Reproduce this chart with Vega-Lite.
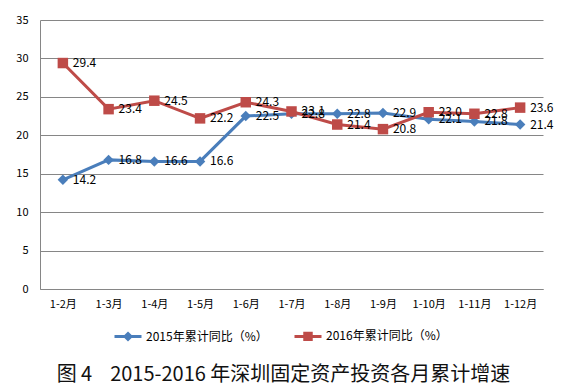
{
  "$schema": "https://vega.github.io/schema/vega-lite/v6.json",
  "width": 503,
  "height": 269,
  "autosize": {"type": "none"},
  "padding": {"left": 40, "top": 20, "right": 26, "bottom": 103},
  "background": "white",
  "config": {
    "view": {"stroke": null},
    "font": "Noto Sans CJK SC",
    "axis": {"labelFont": "Noto Sans CJK SC", "labelColor": "#000", "labelFontSize": 11}
  },
  "title": {
    "text": "图 4\u00a0\u00a0\u00a0 2015-2016 年深圳固定资产投资各月累计增速",
    "orient": "bottom",
    "anchor": "middle",
    "dx": -8,
    "offset": 19,
    "fontSize": 20,
    "fontWeight": "normal",
    "font": "Noto Sans CJK SC",
    "color": "#111"
  },
  "data": {
    "values": [
      {"month": "1-2月", "series": "2015年累计同比（%）", "value": 14.2},
      {"month": "1-3月", "series": "2015年累计同比（%）", "value": 16.8},
      {"month": "1-4月", "series": "2015年累计同比（%）", "value": 16.6},
      {"month": "1-5月", "series": "2015年累计同比（%）", "value": 16.6},
      {"month": "1-6月", "series": "2015年累计同比（%）", "value": 22.5},
      {"month": "1-7月", "series": "2015年累计同比（%）", "value": 22.8},
      {"month": "1-8月", "series": "2015年累计同比（%）", "value": 22.8},
      {"month": "1-9月", "series": "2015年累计同比（%）", "value": 22.9},
      {"month": "1-10月", "series": "2015年累计同比（%）", "value": 22.1},
      {"month": "1-11月", "series": "2015年累计同比（%）", "value": 21.8},
      {"month": "1-12月", "series": "2015年累计同比（%）", "value": 21.4},
      {"month": "1-2月", "series": "2016年累计同比（%）", "value": 29.4},
      {"month": "1-3月", "series": "2016年累计同比（%）", "value": 23.4},
      {"month": "1-4月", "series": "2016年累计同比（%）", "value": 24.5},
      {"month": "1-5月", "series": "2016年累计同比（%）", "value": 22.2},
      {"month": "1-6月", "series": "2016年累计同比（%）", "value": 24.3},
      {"month": "1-7月", "series": "2016年累计同比（%）", "value": 23.1},
      {"month": "1-8月", "series": "2016年累计同比（%）", "value": 21.4},
      {"month": "1-9月", "series": "2016年累计同比（%）", "value": 20.8},
      {"month": "1-10月", "series": "2016年累计同比（%）", "value": 23.0},
      {"month": "1-11月", "series": "2016年累计同比（%）", "value": 22.8},
      {"month": "1-12月", "series": "2016年累计同比（%）", "value": 23.6}
    ]
  },
  "encoding": {
    "x": {
      "field": "month", "type": "nominal", "sort": null,
      "scale": {"type": "point", "padding": 0.5},
      "axis": {"title": null, "labelAngle": 0, "ticks": false, "domainColor": "#868686", "labelPadding": 9, "grid": false}
    },
    "y": {
      "field": "value", "type": "quantitative",
      "scale": {"domain": [0, 35], "nice": false},
      "axis": {"title": null, "values": [0, 5, 10, 15, 20, 25, 30, 35], "ticks": false, "domain": true, "domainColor": "#868686", "gridColor": "#868686", "labelPadding": 12}
    },
    "color": {
      "field": "series", "type": "nominal",
      "scale": {"range": ["#4a7ebb", "#be4b48"]},
      "legend": {
        "title": null,
        "orient": "none",
        "legendX": 73,
        "legendY": 301,
        "direction": "horizontal",
        "labelFontSize": 12,
        "labelColor": "#000",
        "symbolSize": 729,
        "symbolStrokeWidth": 3,
        "columnPadding": 20,
        "labelOffset": 3,
        "encode": {
          "symbols": {
            "update": {
              "shape": {"signal": "datum.value == '2015年累计同比（%）' ? 'M-1,0H1M0,-0.22L0.22,0L0,0.22L-0.22,0Z' : 'M-1,0H1M-0.24,-0.24H0.24V0.24H-0.24Z'"},
              "stroke": {"scale": "color", "field": "value"},
              "fill": {"scale": "color", "field": "value"},
              "strokeWidth": {"value": 3},
              "opacity": {"value": 1}
            }
          }
        }
      }
    }
  },
  "layer": [
    {"mark": {"type": "line", "strokeWidth": 3}},
    {
      "mark": {"type": "point", "filled": true, "opacity": 1, "size": 110},
      "encoding": {
        "shape": {
          "field": "series", "type": "nominal",
          "scale": {"range": ["diamond", "square"]},
          "legend": null
        }
      }
    },
    {
      "mark": {"type": "text", "align": "left", "dx": 10, "fontSize": 12, "color": "#000"},
      "encoding": {
        "text": {"field": "value", "type": "quantitative", "format": ".1f"},
        "color": {"value": "#000"}
      }
    }
  ]
}
